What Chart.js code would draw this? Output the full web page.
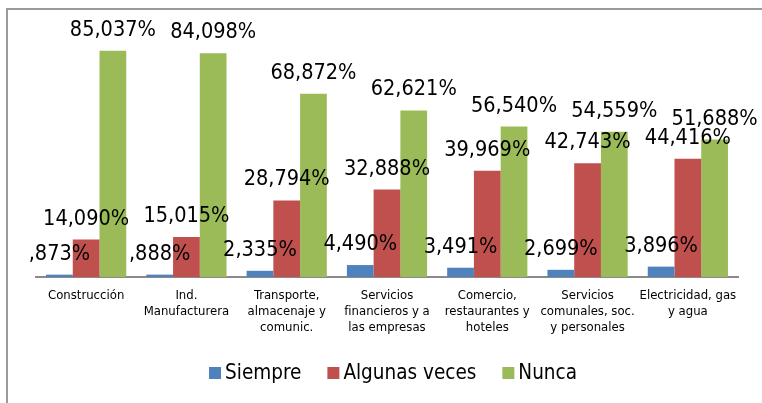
<!DOCTYPE html>
<html lang="es">
<head>
<meta charset="utf-8">
<title>Frecuencia por rama de actividad</title>
<script src="https://cdn.jsdelivr.net/npm/chart.js@4.4.1/dist/chart.umd.min.js"></script>
<style>
  html, body { margin: 0; padding: 0; background: #fff; }
  #wrap { position: relative; width: 762px; height: 403px; }
</style>
</head>
<body>
<div id="wrap"><canvas id="chart" width="762" height="403"></canvas></div>
<script>
"use strict";

/* ---------- data ---------- */
const categories = [
  "Construcción",
  ["Ind.", "Manufacturera"],
  ["Transporte,", "almacenaje y", "comunic."],
  ["Servicios", "financieros y a", "las empresas"],
  ["Comercio,", "restaurantes y", "hoteles"],
  ["Servicios", "comunales, soc.", "y personales"],
  ["Electricidad, gas", "y agua"],
];
const siempre = [0.873, 0.888, 2.335, 4.490, 3.491, 2.699, 3.896];
const algunasVeces = [14.090, 15.015, 28.794, 32.888, 39.969, 42.743, 44.416];
const nunca = [85.037, 84.098, 68.872, 62.621, 56.540, 54.559, 51.688];
const yMin = 0;
const yMax = 100;

const FONT = '"DejaVu Sans Condensed", "DejaVu Sans", sans-serif';
const COLORS = ["#4f81bd", "#c0504d", "#9bbb59"];

/* ---------- helpers ---------- */
// 0.873 -> ",873%" ; 14.09 -> "14,090%"
function fmtPct(v) {
  let s = v.toFixed(3).replace(".", ",");
  if (s.startsWith("0")) s = s.slice(1);
  return s + "%";
}

/* ---------- plugins ---------- */
const framePlugin = {
  id: "frame",
  beforeDraw(chart) {
    const ctx = chart.ctx;
    ctx.save();
    ctx.strokeStyle = "#9a9a9a";
    ctx.lineWidth = 2;
    ctx.strokeRect(7, 9, chart.width + 20, chart.height + 20);
    ctx.restore();
  },
};

const valueLabels = {
  id: "valueLabels",
  afterDatasetsDraw(chart) {
    const ctx = chart.ctx;
    ctx.save();
    ctx.font = "21.5px " + FONT;
    ctx.fillStyle = "#000";
    ctx.textAlign = "center";
    ctx.textBaseline = "alphabetic";
    chart.data.datasets.forEach((ds, i) => {
      chart.getDatasetMeta(i).data.forEach((bar, j) => {
        ctx.fillText(fmtPct(ds.data[j]), bar.x, bar.y - 15);
      });
    });
    ctx.restore();
  },
};

const bottomLegend = {
  id: "bottomLegend",
  afterDraw(chart) {
    const ctx = chart.ctx;
    const box = 12, gap = 4, spacing = 26;
    ctx.save();
    ctx.font = "20.5px " + FONT;
    ctx.textBaseline = "middle";
    ctx.textAlign = "left";
    const items = chart.data.datasets.map((ds) => ({
      label: ds.label, color: ds.backgroundColor, w: ctx.measureText(ds.label).width,
    }));
    const total = items.reduce((a, it) => a + box + gap + it.w, 0) + spacing * (items.length - 1);
    const area = chart.chartArea;
    let x = (area.left + area.right) / 2 + 6 - total / 2;
    const y = 373;
    items.forEach((it) => {
      ctx.fillStyle = it.color;
      ctx.fillRect(x, y - box / 2, box, box);
      ctx.fillStyle = "#000";
      ctx.fillText(it.label, x + box + gap, y + 1);
      x += box + gap + it.w + spacing;
    });
    ctx.restore();
  },
};

/* ---------- chart ---------- */
new Chart(document.getElementById("chart"), {
  type: "bar",
  data: {
    labels: categories,
    datasets: [
      { label: "Siempre", data: siempre, backgroundColor: COLORS[0] },
      { label: "Algunas veces", data: algunasVeces, backgroundColor: COLORS[1] },
      { label: "Nunca", data: nunca, backgroundColor: COLORS[2] },
    ],
  },
  options: {
    responsive: false,
    animation: false,
    events: [],
    layout: { padding: { left: 36, right: 24, top: 11, bottom: 0 } },
    datasets: { bar: { categoryPercentage: 0.8, barPercentage: 1.0 } },
    plugins: { legend: { display: false }, tooltip: { enabled: false } },
    scales: {
      x: {
        grid: { display: false, drawTicks: false },
        border: { display: true, color: "#8a8a8a", width: 2 },
        ticks: {
          color: "#000",
          padding: 11,
          maxRotation: 0,
          autoSkip: false,
          font: { family: FONT, size: 13, lineHeight: 1.23 },
        },
        afterFit(scale) { scale.height = 126; },
      },
      y: { display: false, min: yMin, max: yMax },
    },
  },
  plugins: [framePlugin, valueLabels, bottomLegend],
});
</script>
</body>
</html>
